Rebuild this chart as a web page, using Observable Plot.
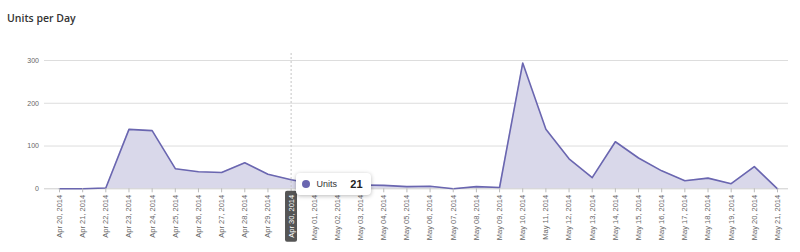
<!DOCTYPE html>
<html><head><meta charset="utf-8">
<script src="https://cdn.jsdelivr.net/npm/d3@7"></script>
<script src="https://cdn.jsdelivr.net/npm/@observablehq/plot@0.6"></script>
<style>
body{margin:0;background:#fff;font-family:"Liberation Sans",Arial,sans-serif;}
#wrap{position:relative;width:800px;height:252px;overflow:hidden;}
#title{height:30px;padding-left:7px;font-family:"Open Sans",sans-serif;font-size:10.5px;font-weight:600;color:#333;line-height:36px;box-sizing:border-box;}
#chart svg{display:block;}
#tip{position:absolute;background:#fff;border-radius:4px;box-shadow:0 1px 4px rgba(0,0,0,0.28);height:22px;width:75px;box-sizing:border-box;display:flex;align-items:center;padding:0 8px 0 6px;font-size:9px;color:#333;}
#tip .dot{width:8px;height:8px;border-radius:50%;background:#6a66b0;display:inline-block;margin-right:7px;}
#tip .val{margin-left:auto;font-weight:bold;font-size:11px;color:#222;}
</style></head><body>
<div id="wrap"><div id="title">Units per Day</div><div id="chart"></div><div id="tip"><span class="dot"></span><span class="name"></span><span class="val"></span></div></div>
<script>
const dates = ["2014-04-20","2014-04-21","2014-04-22","2014-04-23","2014-04-24","2014-04-25","2014-04-26","2014-04-27","2014-04-28","2014-04-29","2014-04-30","2014-05-01","2014-05-02","2014-05-03","2014-05-04","2014-05-05","2014-05-06","2014-05-07","2014-05-08","2014-05-09","2014-05-10","2014-05-11","2014-05-12","2014-05-13","2014-05-14","2014-05-15","2014-05-16","2014-05-17","2014-05-18","2014-05-19","2014-05-20","2014-05-21"];
const units = [0,0,2,139,136,47,40,38,61,34,21,11,10,9,8,5,6,0,5,3,294,139,70,26,110,72,42,19,25,12,52,0];
const yTicks = [0,100,200,300];
const highlightDate = "2014-04-30";
const seriesName = "Units";

const data = dates.map((d,i)=>({date:new Date(d), units:units[i]}));
const fmt = d3.utcFormat("%b %d, %Y");
const hDate = new Date(highlightDate);

const chart = Plot.plot({
  width:800, height:222, marginTop:23, marginBottom:63.7, marginLeft:44, marginRight:12,
  style:{fontFamily:"Liberation Sans, Arial, sans-serif", fontSize:"7px", color:"#666", background:"transparent"},
  x:{type:"utc", domain:[data[0].date, data[data.length-1].date], insetLeft:15, insetRight:11, label:null},
  y:{domain:[0,300], insetTop:7, label:null},
  marks:[
    Plot.gridY(yTicks.filter(t=>t>0), {stroke:"#ddd", strokeOpacity:1}),
    Plot.areaY(data, {x:"date", y:"units", fill:"#d9d8ea", fillOpacity:1}),
    Plot.ruleX([hDate], {stroke:"#c4c4c4", strokeDasharray:"2,2"}),
    Plot.ruleY([0], {stroke:"#ccc"}),
    Plot.lineY(data, {x:"date", y:"units", stroke:"#6a66b0", strokeWidth:1.6}),
    Plot.axisY(yTicks, {tickSize:0, tickPadding:5.5, fontSize:7, fill:"#666", label:null}),
    Plot.axisX(data.map(d=>d.date), {tickFormat:fmt, tickRotate:-90, tickSize:4, tickPadding:2, stroke:"#bbb", fontSize:7.5, fill:"#666", label:null})
  ]
});
document.getElementById("chart").appendChild(chart);

// highlight the hovered date label
const label = fmt(hDate);
chart.querySelectorAll("text").forEach(t => {
  if (t.textContent === label) {
    const bb = t.getBBox();
    const r = document.createElementNS("http://www.w3.org/2000/svg","rect");
    r.setAttribute("x", bb.x - 4); r.setAttribute("y", bb.y - 1.5);
    r.setAttribute("width", bb.width + 8); r.setAttribute("height", bb.height + 3);
    r.setAttribute("rx", 2); r.setAttribute("fill", "#555");
    if (t.getAttribute("transform")) r.setAttribute("transform", t.getAttribute("transform"));
    t.parentNode.insertBefore(r, t);
    t.style.fill = "#fff";
  }
});

// tooltip
const hv = data.find(d => +d.date === +hDate);
const px = chart.scale("x").apply(hDate);
const py = chart.scale("y").apply(hv.units) + 30;
const tip = document.getElementById("tip");
tip.querySelector(".name").textContent = seriesName;
tip.querySelector(".val").textContent = hv.units;
tip.style.left = (px + 5) + "px";
tip.style.top = (py + 5 - 11) + "px";
</script>
</body></html>
